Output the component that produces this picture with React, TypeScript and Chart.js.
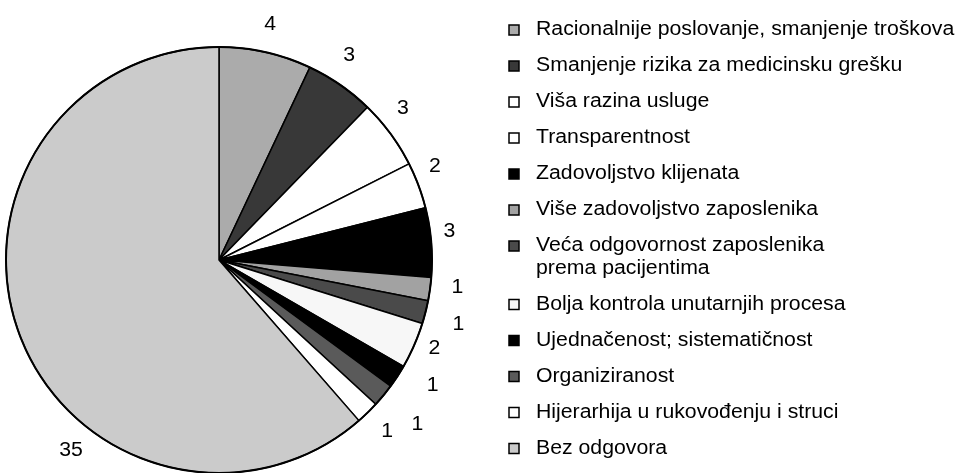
import React, { useEffect, useRef } from 'react';
import { Chart, registerables } from 'chart.js';

Chart.register(...registerables);

// ---- data ----
const categories: string[] = [
  'Racionalnije poslovanje, smanjenje troškova',
  'Smanjenje rizika za medicinsku grešku',
  'Viša razina usluge',
  'Transparentnost',
  'Zadovoljstvo klijenata',
  'Više zadovoljstvo zaposlenika',
  'Veća odgovornost zaposlenika\nprema pacijentima',
  'Bolja kontrola unutarnjih procesa',
  'Ujednačenost; sistematičnost',
  'Organiziranost',
  'Hijerarhija u rukovođenju i struci',
  'Bez odgovora',
];
const counts: number[] = [4, 3, 3, 2, 3, 1, 1, 2, 1, 1, 1, 35];

// ---- styles ----
const sliceColors: string[] = [
  '#ababab', '#383838', '#ffffff', '#ffffff', '#000000', '#a2a2a2',
  '#4a4a4a', '#f7f7f7', '#000000', '#5a5a5a', '#ffffff', '#cbcbcb',
];
// label placement tweaks (degrees relative to slice middle, radius in px)
const labelAngleShift: number[] = [-0.4, -2.2, -3.1, -2.8, -2.2, -1.4, 1.0, -1.2, -2.6, 0.3, -0.3, -31.6];
const labelRadius: number[] = [241, 242, 238, 235, 232, 240, 248, 233, 248, 258, 240, 241];

const FONT = '"Liberation Sans", Arial, Helvetica, sans-serif';
const TEXT_SIZE = 19.5;
const STRETCH = 1.09;

function drawText(ctx: CanvasRenderingContext2D, text: string, x: number, y: number, align: CanvasTextAlign, baseline: CanvasTextBaseline) {
  ctx.save();
  ctx.translate(x, y);
  ctx.scale(STRETCH, 1);
  ctx.textAlign = align;
  ctx.textBaseline = baseline;
  ctx.fillText(text, 0, 0);
  ctx.restore();
}

const valueLabelsPlugin = {
  id: 'valueLabels',
  afterDatasetsDraw(chart: any) {
    const ctx: CanvasRenderingContext2D = chart.ctx;
    const meta = chart.getDatasetMeta(0);
    const data = chart.data.datasets[0].data as number[];
    ctx.save();
    // heavier outer outline like the printed original
    const first = meta.data[0].getProps(['x', 'y', 'outerRadius'], true);
    ctx.beginPath();
    ctx.arc(first.x, first.y, first.outerRadius, 0, Math.PI * 2);
    ctx.strokeStyle = '#000';
    ctx.lineWidth = 2;
    ctx.stroke();

    ctx.fillStyle = '#000';
    ctx.font = `${TEXT_SIZE}px ${FONT}`;
    meta.data.forEach((arc: any, i: number) => {
      const p = arc.getProps(['startAngle', 'endAngle', 'x', 'y'], true);
      const mid = (p.startAngle + p.endAngle) / 2 + (labelAngleShift[i] * Math.PI) / 180;
      const r = labelRadius[i];
      const x = p.x + Math.cos(mid) * r;
      const y = p.y + Math.sin(mid) * r;
      drawText(ctx, String(data[i]), x, y, 'center', 'middle');
    });
    ctx.restore();
  },
};

const legendPlugin = {
  id: 'customLegend',
  afterDraw(chart: any) {
    const ctx: CanvasRenderingContext2D = chart.ctx;
    const labels = chart.data.labels as string[];
    const colors = chart.data.datasets[0].backgroundColor as string[];
    const markerX = 509;
    const textX = 536;
    const firstBaseline = 35;
    const step = 36;
    const lineGap = 22.5;
    ctx.save();
    ctx.font = `${TEXT_SIZE}px ${FONT}`;
    let extra = 0;
    labels.forEach((label, i) => {
      const lines = label.split('\n');
      const base = firstBaseline + step * i + extra;
      ctx.fillStyle = colors[i];
      ctx.fillRect(markerX, base - 10, 10, 10);
      ctx.strokeStyle = '#000';
      ctx.lineWidth = 1.5;
      ctx.strokeRect(markerX, base - 10, 10, 10);
      ctx.fillStyle = '#000';
      lines.forEach((ln, j) => {
        drawText(ctx, ln, textX, base + j * lineGap, 'left', 'alphabetic');
      });
      extra += (lines.length - 1) * lineGap;
    });
    ctx.restore();
  },
};

export default function App() {
  const ref = useRef<HTMLCanvasElement>(null);
  useEffect(() => {
    if (!ref.current) return;
    const chart = new Chart(ref.current, {
      type: 'pie',
      data: {
        labels: categories,
        datasets: [
          {
            data: counts,
            backgroundColor: sliceColors,
            borderColor: '#000',
            borderWidth: 1.5,
          },
        ],
      },
      options: {
        animation: false,
        responsive: true,
        maintainAspectRatio: false,
        radius: 213,
        layout: { padding: { left: 6, top: 47, right: 528, bottom: 0 } },
        plugins: {
          legend: { display: false },
          tooltip: { enabled: false },
        },
      } as any,
      plugins: [valueLabelsPlugin, legendPlugin],
    });
    return () => chart.destroy();
  }, []);
  return (
    <div style={{ position: 'fixed', left: 0, top: 0, width: 960, height: 473, background: '#fff' }}>
      <canvas ref={ref} />
    </div>
  );
}
